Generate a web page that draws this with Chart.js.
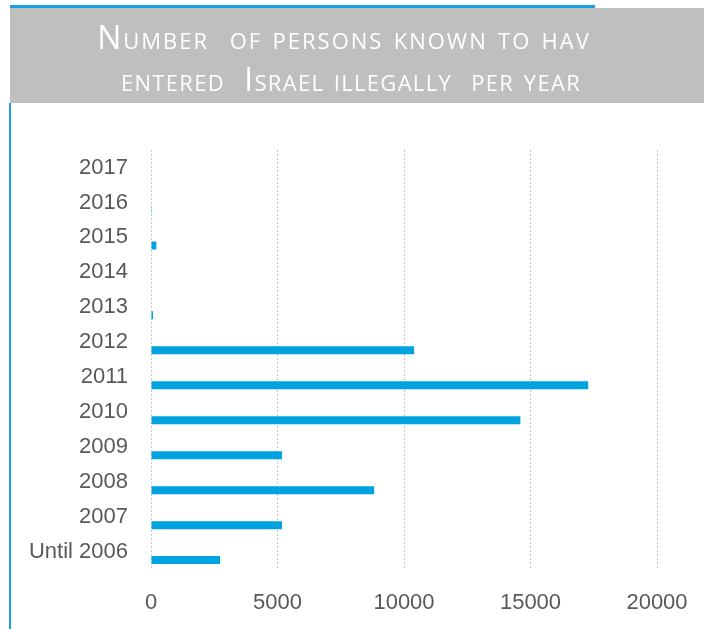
<!DOCTYPE html>
<html>
<head>
<meta charset="utf-8">
<script src="https://cdn.jsdelivr.net/npm/chart.js@4.4.1/dist/chart.umd.min.js"></script>
<style>
  html, body { margin: 0; padding: 0; background: #fff; overflow: hidden; }
  #wrap { position: relative; width: 704px; height: 629px; overflow: hidden; }
  #topline { position: absolute; left: 10px; top: 5px; width: 585px; height: 3px; background: #1ba1e2; }
  #banner { position: absolute; left: 10px; top: 8px; width: 694px; height: 95px; background: #bfbfbf; }
  #banner div {
    position: absolute; width: 694px; text-align: center; color: #fff;
    font-family: "Open Sans", sans-serif; font-size: 32px; font-variant: small-caps;
    white-space: pre; line-height: 1;
  }
  #leftline { position: absolute; left: 9px; top: 103px; width: 2px; height: 526px; background: #1ba1e2; }
  #c { position: absolute; left: 0; top: 0; }
</style>
</head>
<body>
<div id="wrap">
  <canvas id="c" width="704" height="636"></canvas>
  <div id="topline"></div>
  <div id="banner">
    <div id="t1" style="top:13px; left:-13px; letter-spacing:2px">Number  of persons known to hav</div>
    <div id="t2" style="top:55px; left:-6px; letter-spacing:1.3px">entered  Israel illegally  per year</div>
  </div>
  <div id="leftline"></div>
</div>
<script>
// categories bottom → top as in the picture
const years = ['Until 2006', '2007', '2008', '2009', '2010', '2011', '2012', '2013', '2014', '2015', '2016', '2017'];
const persons = [2730, 5180, 8820, 5180, 14600, 17280, 10400, 80, 20, 210, 10, 0];
const xTicks = [0, 5000, 10000, 15000, 20000];

const rev = (a) => a.slice().reverse();

new Chart(document.getElementById('c').getContext('2d'), {
    type: 'bar',
    data: {
        labels: rev(years),
        datasets: [
            // empty first slot, so the real bar sits below the label like in the Excel original
            { label: '', data: years.map(() => null), backgroundColor: 'rgba(0,0,0,0)' },
            { label: 'Persons', data: rev(persons), backgroundColor: '#00a3e0' },
        ],
    },
    options: {
        indexAxis: 'y',
        responsive: false,
        animation: false,
        datasets: { bar: { categoryPercentage: 0.914, barPercentage: 0.5 } },
        layout: { padding: { left: 8, right: 47, top: 150, bottom: 0 } },
        plugins: { legend: { display: false }, tooltip: { enabled: false } },
        scales: {
            x: {
                min: 0,
                max: 20000,
                afterBuildTicks: (axis) => { axis.ticks = xTicks.map((v) => ({ value: v })); },
                afterFit: (axis) => { axis.paddingLeft = 0; axis.paddingRight = 0; },
                ticks: {
                    color: '#595959', padding: 20, font: { family: 'Liberation Sans', size: 22 },
                    callback: (v) => String(v),
                },
                grid: { color: '#c8c8c8', lineWidth: 1, drawTicks: false },
                border: { display: false, dash: [2, 2] },
            },
            y: {
                afterFit: (axis) => { axis.width = 143; },
                ticks: { color: '#595959', padding: 15, font: { family: 'Liberation Sans', size: 22 } },
                grid: { display: false },
                border: { display: false },
            },
        },
    },
});
</script>
</body>
</html>
